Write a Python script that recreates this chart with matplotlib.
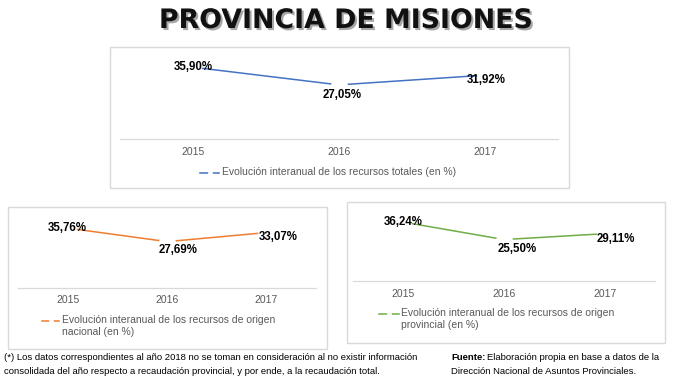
import matplotlib
matplotlib.use('Agg')
import matplotlib.pyplot as plt
import matplotlib.patheffects as pe
from matplotlib.patches import Rectangle
from matplotlib.lines import Line2D

# data
years = ['2015', '2016', '2017']
totales = [35.90, 27.05, 31.92]
nacional = [35.76, 27.69, 33.07]
provincial = [36.24, 25.50, 29.11]

leg_totales = 'Evolución interanual de los recursos totales (en %)'
leg_nacional = 'Evolución interanual de los recursos de origen\nnacional (en %)'
leg_provincial = 'Evolución interanual de los recursos de origen\nprovincial (en %)'

W, H = 675, 384
fig = plt.figure(figsize=(W / 100, H / 100), dpi=100)
plt.rcParams['font.family'] = ['Liberation Sans', 'DejaVu Sans']

GRID = '#D9D9D9'
TXT = '#595959'


def fx(px):
    return px / W


def fy(py):
    return 1 - py / H


def box(x0, y0, x1, y1):
    fig.patches.append(Rectangle((fx(x0), fy(y1)), (x1 - x0) / W, (y1 - y0) / H,
                                 transform=fig.transFigure, fill=False,
                                 edgecolor=GRID, lw=1))


def panel(x0, x1, ytop, ybot, values, color, offsets, pad):
    ax = fig.add_axes([fx(x0), fy(ybot), (x1 - x0) / W, (ybot - ytop) / H])
    xs = range(len(years))
    ax.plot(xs, values, color=color, lw=1.1, marker='o', ms=12,
            mfc='white', mec='none', zorder=2)
    for i, v in enumerate(values):
        lab = f'{v:.2f}'.replace('.', ',') + '%'
        ax.annotate(lab, (i, v), xytext=(offsets[i][0], -offsets[i][1]),
                    textcoords='offset pixels', ha='center', va='center',
                    fontsize=8.3, fontweight='bold', color='black',
                    zorder=3, annotation_clip=False)
    ax.set_xlim(-0.5, len(years) - 0.5)
    ax.set_ylim(0, 40)
    ax.set_xticks(list(xs))
    ax.set_xticklabels(years, fontsize=7.5, color=TXT)
    ax.tick_params(length=0, pad=pad)
    ax.set_yticks([])
    for s in ['top', 'left', 'right']:
        ax.spines[s].set_visible(False)
    ax.spines['bottom'].set_color(GRID)
    ax.spines['bottom'].set_linewidth(0.9)
    ax.patch.set_visible(False)
    return ax


def legend(hx0, hx1, ty, tx, label, color):
    mid = (hx0 + hx1) / 2
    fig.lines.append(Line2D([fx(hx0), fx(mid), fx(hx1)], [fy(ty)] * 3,
                            transform=fig.transFigure, color=color, lw=1.1,
                            marker='o', ms=3.5, mfc='white', mec='none',
                            markevery=[1]))
    fig.text(fx(tx), fy(ty - 6), label, ha='left', va='top', fontsize=7.5,
             color=TXT, linespacing=1.25)


# boxes
box(110, 47, 569, 188)
box(8, 207, 327, 349)
box(347, 202, 665, 343)

# panels
panel(120, 558, 59, 139, totales, '#4472C4', [(0, 0), (3, 10), (1, 5)], 6)
panel(18, 316, 221, 288, nacional, '#ED7D31', [(0, 0), (11, 8), (12, 4)], 5)
panel(353, 655, 216, 281, provincial, '#70AD47', [(0, 0), (13, 9), (11, 5)], 5.5)

legend(200, 219, 173, 222, leg_totales, '#4472C4')
legend(42, 59, 321, 62, leg_nacional, '#ED7D31')
legend(379, 399, 314, 401, leg_provincial, '#70AD47')

renderer = fig.canvas.get_renderer()

# title, scaled to the reference width
t = fig.text(fx(346), fy(21), 'PROVINCIA DE MISIONES', ha='center', va='center',
             fontsize=19, fontweight='bold', family='DejaVu Sans', color='#111111')
w = t.get_window_extent(renderer).width
t.set_fontsize(19 * 373 / w)
t.set_path_effects([pe.SimplePatchShadow(offset=(1.5, -1.5), alpha=0.35),
                    pe.Normal()])

# notes
fs = 6.8
fig.text(fx(4), fy(357), '(*) Los datos correspondientes al año 2018 no se toman en '
         'consideración al no existir información', ha='left', va='center', fontsize=fs)
fig.text(fx(4), fy(371), 'consolidada del año respecto a recaudación provincial, '
         'y por ende, a la recaudación total.', ha='left', va='center', fontsize=fs)
f1 = fig.text(fx(451), fy(357), 'Fuente:', ha='left', va='center', fontsize=fs,
              fontweight='bold')
fw = f1.get_window_extent(renderer).width
fig.text(fx(451 + fw + 2), fy(357), 'Elaboración propia en base a datos de la',
         ha='left', va='center', fontsize=fs)
fig.text(fx(451), fy(371), 'Dirección Nacional de Asuntos Provinciales.',
         ha='left', va='center', fontsize=fs)

fig.savefig('out.png', dpi=100)
